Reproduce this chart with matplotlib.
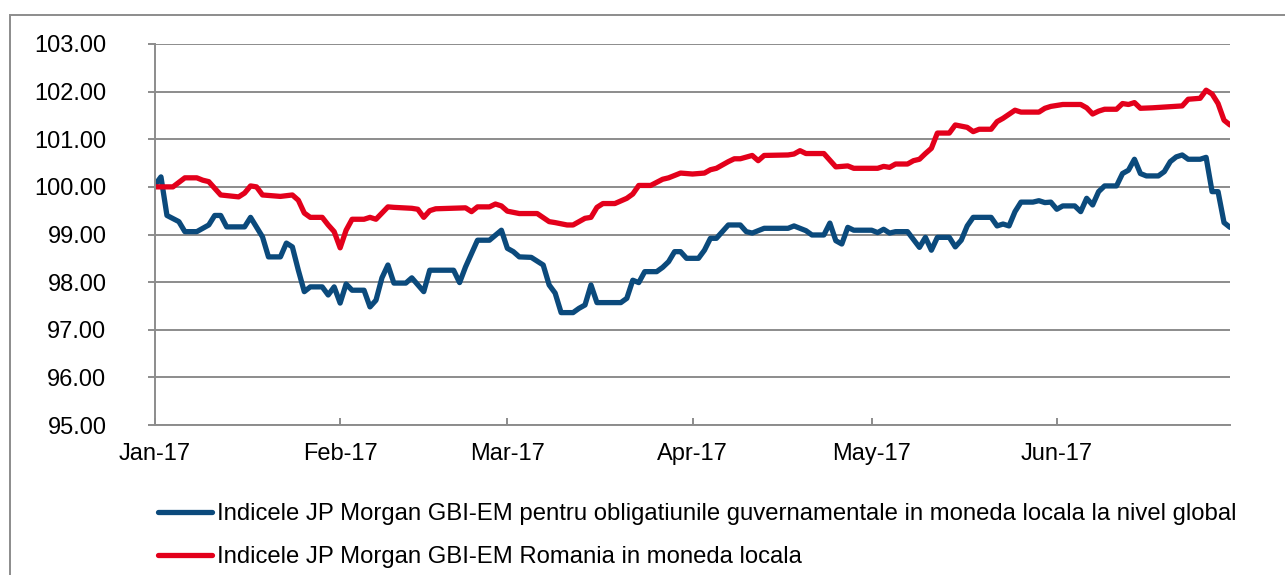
import numpy as np
import matplotlib
matplotlib.use("Agg")
import matplotlib.pyplot as plt
import matplotlib.dates as mdates
from matplotlib.patches import Rectangle

plt.rcParams['font.family'] = ['Liberation Sans', 'DejaVu Sans']

start = np.datetime64('2017-01-01')

# days since 1 Jan 2017, index level
global_days = [0, 1, 2, 4, 5, 7, 9, 10, 11, 12, 15, 16, 18, 19, 21, 22, 23, 24, 25, 26, 28, 29, 30, 31,
               32, 33, 35, 36, 37, 38, 39, 40, 42, 43, 45, 46, 50, 51, 52, 53, 54, 56, 58, 59, 60, 61,
               63, 65, 66, 67, 68, 70, 71, 72, 73, 74, 78, 79, 80, 81, 82, 84, 85, 86, 87, 88, 89, 91,
               92, 93, 94, 95, 96, 98, 99, 100, 102, 106, 107, 109, 110, 112, 113, 114, 115, 116, 117,
               120, 121, 122, 123, 124, 126, 128, 129, 130, 131, 133, 134, 135, 136, 137, 140, 141, 142,
               143, 144, 145, 147, 148, 149, 150, 151, 152, 154, 155, 156, 157, 158, 159, 161, 162, 163,
               164, 165, 166, 168, 169, 170, 171, 172, 173, 175, 176, 177, 178, 179, 180]
global_vals = [100.04, 100.21, 99.40, 99.27, 99.06, 99.06, 99.20, 99.40, 99.40, 99.16, 99.16, 99.36,
               98.95, 98.53, 98.53, 98.82, 98.74, 98.25, 97.80, 97.90, 97.90, 97.73, 97.90, 97.56,
               97.96, 97.83, 97.83, 97.48, 97.62, 98.09, 98.36, 97.98, 97.98, 98.09, 97.80, 98.25,
               98.25, 97.99, 98.32, 98.60, 98.88, 98.88, 99.09, 98.71, 98.64, 98.53, 98.52, 98.36,
               97.94, 97.77, 97.36, 97.36, 97.45, 97.52, 97.94, 97.57, 97.57, 97.66, 98.04, 97.99,
               98.22, 98.22, 98.31, 98.43, 98.64, 98.64, 98.50, 98.50, 98.67, 98.92, 98.92, 99.06,
               99.20, 99.20, 99.06, 99.03, 99.13, 99.13, 99.18, 99.08, 98.99, 98.99, 99.24, 98.87,
               98.80, 99.15, 99.09, 99.09, 99.04, 99.11, 99.03, 99.06, 99.06, 98.73, 98.94, 98.67,
               98.94, 98.94, 98.74, 98.88, 99.18, 99.36, 99.36, 99.18, 99.22, 99.18, 99.48, 99.68,
               99.68, 99.71, 99.67, 99.68, 99.53, 99.60, 99.60, 99.48, 99.76, 99.62, 99.90, 100.02,
               100.02, 100.28, 100.35, 100.58, 100.28, 100.23, 100.23, 100.32, 100.53, 100.63, 100.67,
               100.58, 100.58, 100.62, 99.90, 99.90, 99.25, 99.15]

romania_days = [0, 3, 5, 7, 8, 9, 11, 14, 15, 16, 17, 18, 21, 23, 24, 25, 26, 28, 29, 30, 31, 32, 33,
                35, 36, 37, 39, 40, 43, 44, 45, 46, 47, 52, 53, 54, 56, 57, 58, 59, 61, 64, 66, 67, 69,
                70, 72, 73, 74, 75, 77, 79, 80, 81, 83, 85, 86, 88, 90, 92, 93, 94, 96, 97, 98, 100,
                101, 102, 106, 107, 108, 109, 112, 113, 114, 116, 117, 121, 122, 123, 124, 126, 127,
                128, 129, 130, 131, 133, 134, 136, 137, 138, 140, 141, 142, 144, 145, 148, 149, 150,
                152, 155, 156, 157, 158, 159, 161, 162, 163, 164, 165, 167, 172, 173, 175, 176, 177,
                178, 179, 180]
romania_vals = [100.00, 100.00, 100.19, 100.19, 100.14, 100.11, 99.83, 99.79, 99.87, 100.02, 100.00,
                99.83, 99.80, 99.83, 99.72, 99.45, 99.36, 99.36, 99.20, 99.06, 98.72, 99.09, 99.32,
                99.32, 99.36, 99.32, 99.58, 99.57, 99.55, 99.53, 99.36, 99.50, 99.54, 99.56, 99.48,
                99.58, 99.58, 99.64, 99.60, 99.49, 99.44, 99.44, 99.27, 99.25, 99.20, 99.20, 99.34,
                99.36, 99.57, 99.65, 99.65, 99.76, 99.85, 100.03, 100.03, 100.16, 100.19, 100.29,
                100.27, 100.29, 100.36, 100.39, 100.53, 100.59, 100.59, 100.66, 100.55, 100.66,
                100.67, 100.69, 100.76, 100.70, 100.70, 100.56, 100.42, 100.44, 100.39, 100.39,
                100.43, 100.41, 100.48, 100.48, 100.55, 100.58, 100.70, 100.81, 101.13, 101.13,
                101.30, 101.25, 101.16, 101.21, 101.21, 101.37, 101.44, 101.61, 101.57, 101.57,
                101.65, 101.69, 101.73, 101.73, 101.66, 101.53, 101.59, 101.63, 101.63, 101.75,
                101.73, 101.77, 101.65, 101.66, 101.70, 101.84, 101.86, 102.03, 101.95, 101.75,
                101.40, 101.30]

labels = ['Indicele JP Morgan GBI-EM pentru obligatiunile guvernamentale in moneda locala la nivel global',
          'Indicele JP Morgan GBI-EM Romania in moneda locala']
colors = ['#0B4A7C', '#E3001B']
y_ticks = [95, 96, 97, 98, 99, 100, 101, 102, 103]
x_tick_dates = ['2017-01-01', '2017-02-01', '2017-03-01', '2017-04-01', '2017-05-01', '2017-06-01']
x_end = '2017-06-30'

W, H = 1285, 575
fig = plt.figure(figsize=(W / 100, H / 100), dpi=100)
ax = fig.add_axes([155 / W, 1 - 425 / H, (1230 - 155) / W, (425 - 44) / H])

gd = start + np.array(global_days).astype('timedelta64[D]')
rd = start + np.array(romania_days).astype('timedelta64[D]')
ax.plot(gd, global_vals, color=colors[0], lw=3.8, label=labels[0], solid_capstyle='round', solid_joinstyle='round')
ax.plot(rd, romania_vals, color=colors[1], lw=3.8, label=labels[1], solid_capstyle='round', solid_joinstyle='round')

ax.set_xlim(np.datetime64(x_tick_dates[0]), np.datetime64(x_end))
ax.set_ylim(95, 103)
ax.set_yticks(y_ticks)
ax.set_yticklabels([f'{v:.2f}' for v in y_ticks])
ax.set_xticks([np.datetime64(d) for d in x_tick_dates])
ax.xaxis.set_major_formatter(mdates.DateFormatter('%b-%y'))

ax.grid(axis='y', color='#8C8C8C', lw=1.4)
ax.set_axisbelow(True)
for s in ['top', 'right']:
    ax.spines[s].set_visible(False)
for s in ['left', 'bottom']:
    ax.spines[s].set_color('#8C8C8C')
    ax.spines[s].set_linewidth(1.4)
ax.tick_params(axis='y', direction='out', length=5, width=1.4, color='#8C8C8C', pad=30, labelsize=17)
ax.tick_params(axis='x', direction='in', length=5, width=1.4, color='#8C8C8C', pad=13, labelsize=17)

leg = fig.legend(loc='upper left', bbox_to_anchor=(158 / W, 1 - 503 / H), frameon=False, fontsize=17.2,
                 handlelength=2.25, handletextpad=0.2, labelspacing=0.9, borderpad=0, borderaxespad=0)

fig.patches.append(Rectangle((10 / W, -0.1), 1.2, 1 - 15 / H + 0.1, transform=fig.transFigure,
                             fill=False, edgecolor='#8C8C8C', lw=1.4))

fig.savefig('out.png', dpi=100)
